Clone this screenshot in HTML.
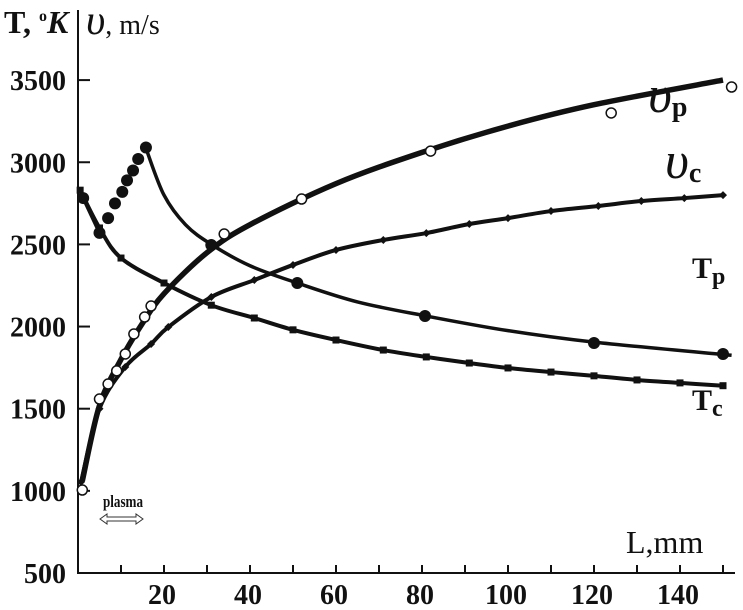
<!DOCTYPE html>
<html><head><meta charset="utf-8"><style>
html,body{margin:0;padding:0;background:#fff;}
svg{display:block;}
text{font-family:"Liberation Serif","DejaVu Serif",serif;fill:#111;}
</style></head><body>
<svg id="chart" width="743" height="610" viewBox="0 0 743 610" xmlns="http://www.w3.org/2000/svg">
<g id="axes"></g>
<g id="marks"></g>
<text x="4" y="33" font-size="32" font-weight="bold">T, <tspan font-size="16" dy="-12">o</tspan><tspan font-style="italic" dy="12">K</tspan></text>
<text x="86" y="34" font-size="42" font-style="italic">υ<tspan font-style="normal" font-size="28">, m/s</tspan></text>
<text x="626" y="553" font-size="32">L,mm</text>
<text x="648" y="112" font-size="52" font-style="italic">υ<tspan font-style="normal" font-weight="bold" font-size="28" dy="4">p</tspan></text>
<text x="665" y="178" font-size="52" font-style="italic">υ<tspan font-style="normal" font-weight="bold" font-size="28" dy="4">c</tspan></text>
<text x="692" y="278" font-size="30" font-weight="bold">T<tspan font-size="24" dy="6">p</tspan></text>
<text x="692" y="410" font-size="30" font-weight="bold">T<tspan font-size="24" dy="6">c</tspan></text>
<text x="103" y="507" font-size="17" font-weight="bold" textLength="40" lengthAdjust="spacingAndGlyphs">plasma</text>
<path d="M100,519 l7,-5 v3 h29 v-3 l7,5 l-7,5 v-3 h-29 v3 z" fill="#fff" stroke="#333" stroke-width="1"/>
</svg>
<script>
const xTicks=[20,40,60,80,100,120,140];
const yTicks=[500,1000,1500,2000,2500,3000,3500];
const tpL=[1.2,5,7,8.6,10.3,11.4,12.8,14,15.8,31,51,80.7,120,150];
const tpV=[2782,2570,2660,2750,2820,2890,2950,3020,3090,2496,2265,2064,1900,1833];
const tcL=[0.5,5,10,20,31,41,50,60,71,81,91,100,110,120,130,140,150];
const tcV=[2830,2600,2417,2265,2130,2052,1980,1918,1857,1815,1778,1748,1723,1700,1675,1657,1640];
const vcL=[0.7,5,11,17,21,31,41,50,60,71,81,91,100,110,121,131,141,150];
const vcV=[1054,1500,1754,1894,1997,2180,2283,2375,2466,2527,2569,2624,2660,2703,2734,2764,2782,2800];
const vpL=[1,5,7,9,11,13,15.5,17,34,52,82,124,152];
const vpV=[1005,1559,1650,1730,1833,1955,2058,2125,2563,2776,3068,3300,3458];
const vpCurveL=[1,5,10,15,20,30,40,60,80,100,120,150];
const vpCurveV=[1060,1520,1800,2020,2200,2450,2620,2870,3060,3220,3350,3500];
const tpCurve1L=[1.2,5];
const tpCurve1V=[2782,2570];
const tpCurve2L=[16,20,25,31,40,51,65,81,100,120,152];
const tpCurve2V=[3070,2800,2620,2500,2370,2265,2150,2064,1975,1905,1825];

const X=L=>78+L*4.3;
const Y=v=>573-(v-500)*0.1643;
const NS="http://www.w3.org/2000/svg";
const axes=document.getElementById('axes'), marks=document.getElementById('marks');
function mk(tag,attrs,parent){const e=document.createElementNS(NS,tag);for(const k in attrs)e.setAttribute(k,attrs[k]);parent.appendChild(e);return e;}
function smooth(Ls,Vs){const p=Ls.map((l,i)=>[X(l),Y(Vs[i])]);let d='M'+p[0][0]+','+p[0][1];
 for(let i=0;i<p.length-1;i++){const p0=p[i-1]||p[i],p1=p[i],p2=p[i+1],p3=p[i+2]||p2;
  d+=' C'+(p1[0]+(p2[0]-p0[0])/6)+','+(p1[1]+(p2[1]-p0[1])/6)+' '+(p2[0]-(p3[0]-p1[0])/6)+','+(p2[1]-(p3[1]-p1[1])/6)+' '+p2[0]+','+p2[1];}
 return d;}
let a=mk('line',{x1:78,y1:10,x2:78,y2:574,stroke:'#111','stroke-width':2},axes);

a=mk('line',{x1:77,y1:573,x2:735,y2:573,stroke:'#111','stroke-width':2},axes);

yTicks.forEach(v=>{
 const t=mk('line',{x1:78,y1:Y(v),x2:90,y2:Y(v),stroke:'#111','stroke-width':2},axes);
 
 const l=mk('text',{x:66,y:Y(v)+10,'font-size':28,'font-weight':'bold','text-anchor':'end'},axes);
 l.textContent=v;
 
});
for(let L=10;L<=150;L+=10){
 const t=mk('line',{x1:X(L),y1:565,x2:X(L),y2:574,stroke:'#111','stroke-width':2},axes);
 
}
xTicks.forEach(L=>{
 const l=mk('text',{x:X(L)-2,y:604,'font-size':28,'font-weight':'bold','text-anchor':'middle'},axes);
 l.textContent=L;
 
});
let c=mk('path',{d:smooth(vpCurveL,vpCurveV),fill:'none',stroke:'#111','stroke-width':5.5},marks);

c=mk('path',{d:smooth(vcL,vcV),fill:'none',stroke:'#111','stroke-width':4},marks);

c=mk('path',{d:smooth(tcL,tcV),fill:'none',stroke:'#111','stroke-width':4},marks);

c=mk('path',{d:smooth(tpCurve1L,tpCurve1V),fill:'none',stroke:'#111','stroke-width':3.5},marks);

c=mk('path',{d:smooth(tpCurve2L,tpCurve2V),fill:'none',stroke:'#111','stroke-width':3.5},marks);

tcL.forEach((L,i)=>{const m=mk('rect',{x:X(L)-3.5,y:Y(tcV[i])-3.5,width:7,height:7,fill:'#111'},marks);
 });
vcL.forEach((L,i)=>{const x=X(L),y=Y(vcV[i]);const m=mk('path',{d:`M${x},${y-4} L${x+4},${y} L${x},${y+4} L${x-4},${y} Z`,fill:'#111'},marks);
 });
tpL.forEach((L,i)=>{const m=mk('circle',{cx:X(L),cy:Y(tpV[i]),r:6,fill:'#111'},marks);
 });
vpL.forEach((L,i)=>{const m=mk('circle',{cx:X(L),cy:Y(vpV[i]),r:5,fill:'#fff',stroke:'#111','stroke-width':1.5},marks);
 });
</script>
</body></html>
